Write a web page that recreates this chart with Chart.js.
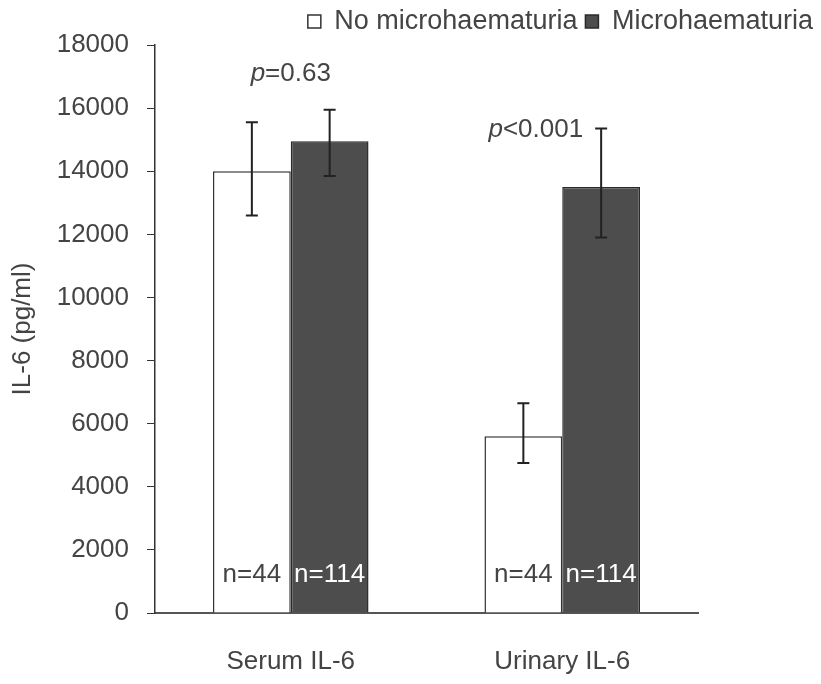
<!DOCTYPE html>
<html>
<head>
<meta charset="utf-8">
<script src="https://cdn.jsdelivr.net/npm/chart.js@4/dist/chart.umd.min.js"></script>
<style>
  html, body { margin: 0; padding: 0; background: #fff; }
  #wrap { width: 821px; height: 684px; }
</style>
</head>
<body>
<div id="wrap"><canvas id="il6"></canvas></div>
<script>
const categories = ["Serum IL-6", "Urinary IL-6"];
const seriesNames = ["No microhaematuria", "Microhaematuria"];
const noMicro = [14000, 5600];
const micro = [14950, 13500];
const noMicroLow = [12600, 4750];
const noMicroHigh = [15550, 6650];
const microLow = [13850, 11900];
const microHigh = [15950, 15350];
const noMicroN = ["n=44", "n=44"];
const microN = ["n=114", "n=114"];
const pValues = ["=0.63", "<0.001"];
const yTicks = [0, 2000, 4000, 6000, 8000, 10000, 12000, 14000, 16000, 18000];

const errLow = [noMicroLow, microLow];
const errHigh = [noMicroHigh, microHigh];
const nText = [noMicroN, microN];

const FONT = "'Liberation Sans', Arial, sans-serif";
const GREY = "#444";

const annotate = {
	id: "annotate",
	afterDatasetsDraw(chart) {
		const ctx = chart.ctx;
		const y = chart.scales.y;
		const x = chart.scales.x;
		ctx.save();
		// error bars and n labels
		chart.data.datasets.forEach((ds, i) => {
			chart.getDatasetMeta(i).data.forEach((bar, j) => {
				const top = y.getPixelForValue(errHigh[i][j]);
				const bot = y.getPixelForValue(errLow[i][j]);
				ctx.strokeStyle = "#222";
				ctx.lineWidth = 2;
				ctx.beginPath();
				ctx.moveTo(bar.x, top);
				ctx.lineTo(bar.x, bot);
				ctx.moveTo(bar.x - 6, top);
				ctx.lineTo(bar.x + 6, top);
				ctx.moveTo(bar.x - 6, bot);
				ctx.lineTo(bar.x + 6, bot);
				ctx.stroke();
				ctx.font = "26px " + FONT;
				ctx.textAlign = "center";
				ctx.textBaseline = "middle";
				ctx.fillStyle = i === 0 ? GREY : "#fff";
				ctx.fillText(nText[i][j], bar.x, y.getPixelForValue(1200));
			});
		});
		// p values
		pValues.forEach((txt, j) => {
			const microBar = chart.getDatasetMeta(1).data[j];
			ctx.textBaseline = "middle";
			ctx.font = "italic 26px " + FONT;
			const pw = ctx.measureText("p").width;
			ctx.font = "26px " + FONT;
			const tw = ctx.measureText(txt).width;
			let left, py;
			if (j === 0) {
				left = x.getPixelForValue(j) - (pw + tw) / 2;
				py = y.getPixelForValue(17100);
			} else {
				left = microBar.x - 18 - (pw + tw);
				py = y.getPixelForValue(15300);
			}
			ctx.fillStyle = GREY;
			ctx.textAlign = "left";
			ctx.font = "italic 26px " + FONT;
			ctx.fillText("p", left, py);
			ctx.font = "26px " + FONT;
			ctx.fillText(txt, left + pw, py);
		});
		ctx.restore();
	},
};

new Chart(document.getElementById("il6").getContext("2d"), {
	type: "bar",
	data: {
		labels: categories,
		datasets: [
			{
				label: seriesNames[0],
				data: noMicro,
				backgroundColor: "#ffffff",
				borderColor: "#333",
				borderWidth: 1.5,
			},
			{
				label: seriesNames[1],
				data: micro,
				backgroundColor: "#4d4d4d",
				borderColor: "#2a2a2a",
				borderWidth: 1.5,
			},
		],
	},
	options: {
		responsive: true,
		maintainAspectRatio: false,
		animation: false,
		layout: { padding: { top: 0, left: 0, right: 0, bottom: 0 } },
		datasets: {
			bar: { categoryPercentage: 0.573, barPercentage: 1.0 },
		},
		plugins: {
			legend: {
				position: "top",
				align: "end",
				labels: {
					boxWidth: 13,
					boxHeight: 13,
					padding: 8,
					color: GREY,
					font: { family: FONT, size: 27 },
				},
			},
			tooltip: { enabled: false },
		},
		scales: {
			x: {
				grid: { display: false },
				border: { color: "#555", width: 2 },
				ticks: {
					color: GREY,
					font: { family: FONT, size: 26 },
					padding: 25,
				},
				afterFit(s) { s.height = 71; },
			},
			y: {
				min: 0,
				max: 18000,
				afterBuildTicks(s) { s.ticks = yTicks.map((v) => ({ value: v })); },
				grid: {
					drawOnChartArea: false,
					drawTicks: true,
					tickLength: 8,
					color: "#333",
				},
				border: { color: "#333", width: 1.5 },
				ticks: {
					color: GREY,
					font: { family: FONT, size: 26 },
					padding: 18,
					callback: (v) => String(v),
				},
				title: {
					display: true,
					text: "IL-6 (pg/ml)",
					color: GREY,
					font: { family: FONT, size: 26 },
					padding: { top: 7, bottom: 0 },
				},
				afterFit(s) { s.width = 155; },
			},
			yRight: {
				position: "right",
				display: true,
				grid: { display: false },
				border: { display: false },
				ticks: { display: false },
				afterFit(s) { s.width = 123; },
			},
		},
	},
	plugins: [annotate],
});
</script>
</body>
</html>
